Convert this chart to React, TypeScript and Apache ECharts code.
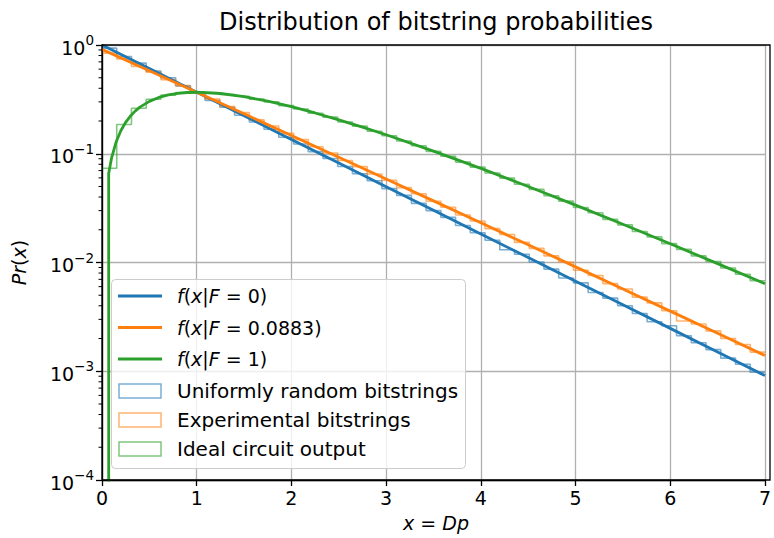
import React, { useEffect, useRef } from 'react';
import * as echarts from 'echarts';

// ---- data ----
const BIN_COUNT = 45;
const X_MAX = 7;

const UNIFORM_HIST = [
  0.935, 0.785, 0.682, 0.575, 0.5, 0.421, 0.366, 0.309, 0.268, 0.226, 0.196, 0.168, 0.142, 0.123, 0.1045,
  0.0905, 0.0763, 0.0655, 0.0565, 0.0478, 0.0414, 0.035, 0.03, 0.026, 0.0219, 0.0188, 0.016, 0.0131, 0.0119,
  0.0101, 0.0087, 0.0072, 0.0065, 0.0053, 0.0047, 0.004, 0.0034, 0.00285, 0.00262, 0.00212, 0.00183, 0.00158,
  0.00132, 0.00116, 0.00098,
];
const EXPERIMENT_HIST = [
  0.842, 0.745, 0.636, 0.562, 0.48, 0.423, 0.362, 0.318, 0.272, 0.239, 0.205, 0.18, 0.154, 0.135, 0.1158,
  0.1015, 0.0868, 0.0762, 0.0651, 0.0571, 0.0488, 0.0429, 0.0366, 0.0322, 0.0273, 0.0241, 0.0205, 0.0181,
  0.0153, 0.0135, 0.0115, 0.0101, 0.0085, 0.0076, 0.0064, 0.0057, 0.0048, 0.00425, 0.0036, 0.0029, 0.00272,
  0.00235, 0.002, 0.00176, 0.0015,
];
const IDEAL_HIST = [
  0.0735, 0.186, 0.262, 0.317, 0.346, 0.365, 0.366, 0.364, 0.351, 0.338, 0.318, 0.3, 0.277, 0.258, 0.2355,
  0.217, 0.196, 0.1795, 0.161, 0.1465, 0.131, 0.1185, 0.1052, 0.0947, 0.0838, 0.0753, 0.0665, 0.0597, 0.0525,
  0.047, 0.0411, 0.0367, 0.032, 0.0287, 0.0249, 0.0222, 0.0193, 0.0172, 0.0149, 0.0132, 0.0115, 0.0102,
  0.0089, 0.0078, 0.0068,
];

const F0_X = [0, 0.5, 1, 1.5, 2, 2.5, 3, 3.5, 4, 4.5, 5, 5.5, 6, 6.5, 7];
const F0_Y = [1, 0.6065, 0.3679, 0.2231, 0.1353, 0.0821, 0.04979, 0.0302, 0.01832, 0.01111, 0.006738, 0.004087,
  0.002479, 0.001503, 0.000912];
const FX_X = [0, 0.5, 1, 1.5, 2, 2.5, 3, 3.5, 4, 4.5, 5, 5.5, 6, 6.5, 7];
const FX_Y = [0.9117, 0.5797, 0.3679, 0.233, 0.1473, 0.093, 0.05858, 0.03687, 0.02317, 0.01455, 0.009118,
  0.005711, 0.003573, 0.002234, 0.001395];
const F1_X = [0.0707, 0.0707, 0.1, 0.15, 0.2, 0.25, 0.3, 0.35, 0.4, 0.5, 0.6, 0.7, 0.8, 0.9, 1, 1.25, 1.5, 1.75,
  2, 2.25, 2.5, 2.75, 3, 3.5, 4, 4.5, 5, 5.5, 6, 6.5, 7];
const F1_Y = [1e-6, 0.066, 0.0905, 0.1291, 0.1637, 0.1947, 0.2222, 0.2466, 0.2681, 0.3033, 0.3293, 0.3476,
  0.3595, 0.3659, 0.3679, 0.3581, 0.3347, 0.3041, 0.2707, 0.2371, 0.2052, 0.1758, 0.1494, 0.1057, 0.0733, 0.05,
  0.0337, 0.0225, 0.01487, 0.00977, 0.00638];

const LINE_LABELS = ['0', '0.0883', '1'];
const HIST_LABELS = ['Uniformly random bitstrings', 'Experimental bitstrings', 'Ideal circuit output'];
const TITLE = 'Distribution of bitstring probabilities';

const BLUE = '#1f77b4';
const ORANGE = '#ff7f0e';
const GREEN = '#2ca02c';
const FONT = 'DejaVu Sans';

const GRID = { left: 102, top: 45, width: 668, height: 435 };

function stepData(vals: number[]) {
  const d = vals.map((v, i) => [(i * X_MAX) / BIN_COUNT, v]);
  d.push([X_MAX, vals[vals.length - 1]]);
  return d;
}
function zip(xs: number[], ys: number[]) {
  return xs.map((x, i) => [x, ys[i]]);
}

export default function App() {
  const ref = useRef<HTMLDivElement>(null);
  useEffect(() => {
    const chart = echarts.init(ref.current!, null, { renderer: 'svg' });

    const minorTicks: number[][] = [];
    for (let e = -4; e < 0; e++) {
      for (let m = 2; m <= 9; m++) minorTicks.push([0, m * Math.pow(10, e)]);
    }

    const italicRich = {
      n: { fontFamily: FONT, fontSize: 19, color: '#000' },
      i: { fontFamily: FONT, fontSize: 19, fontStyle: 'italic', color: '#000' },
    };

    const legendItems: any[] = [
      {
        type: 'rect',
        shape: { x: 111.5, y: 279.5, width: 354, height: 189, r: 4 },
        style: { fill: 'rgba(255,255,255,0.8)', stroke: '#cccccc', lineWidth: 1 },
        z: 50,
      },
    ];
    const lineColors = [BLUE, ORANGE, GREEN];
    const lineYs = [296, 327.5, 359];
    lineYs.forEach((y, k) => {
      legendItems.push({
        type: 'line',
        shape: { x1: 118, y1: y, x2: 162, y2: y },
        style: { stroke: lineColors[k], lineWidth: 2.8 },
        z: 51,
      });
      legendItems.push({
        type: 'text',
        x: 177,
        y: y,
        style: {
          text: `{i|f}{n|(}{i|x}{n||}{i|F}{n| = ${LINE_LABELS[k]})}`,
          rich: italicRich,
          verticalAlign: 'middle',
          align: 'left',
        },
        z: 51,
      });
    });
    const histYs = [391, 420, 449];
    histYs.forEach((y, k) => {
      legendItems.push({
        type: 'rect',
        shape: { x: 119, y: y - 7, width: 42, height: 14 },
        style: { fill: 'none', stroke: lineColors[k], lineWidth: 1.5, opacity: 0.6 },
        z: 51,
      });
      legendItems.push({
        type: 'text',
        x: 177,
        y: y,
        style: {
          text: HIST_LABELS[k],
          fontFamily: FONT,
          fontSize: 20,
          fill: '#000',
          verticalAlign: 'middle',
          align: 'left',
        },
        z: 51,
      });
    });

    const histSeries = [UNIFORM_HIST, EXPERIMENT_HIST, IDEAL_HIST].map((vals, k) => ({
      type: 'line',
      name: HIST_LABELS[k],
      data: stepData(vals),
      step: 'end',
      symbol: 'none',
      showSymbol: false,
      lineStyle: { color: lineColors[k], width: 1.6, opacity: 0.6 },
      z: 2,
      silent: true,
    }));
    const curveSeries = [zip(F0_X, F0_Y), zip(FX_X, FX_Y), zip(F1_X, F1_Y)].map((d, k) => ({
      type: 'line',
      name: 'f' + k,
      data: d,
      symbol: 'none',
      showSymbol: false,
      lineStyle: { color: lineColors[k], width: 2.8 },
      z: 3,
      silent: true,
    }));

    chart.setOption({
      animation: false,
      textStyle: { fontFamily: FONT },
      grid: { ...GRID, containLabel: false },
      xAxis: {
        type: 'value',
        min: 0,
        max: 7,
        interval: 1,
        axisLine: { show: true, onZero: false, lineStyle: { color: '#000', width: 1.3 } },
        axisTick: { show: true, length: 6, lineStyle: { color: '#000', width: 1.3 } },
        axisLabel: { fontFamily: FONT, fontSize: 19, color: '#000', margin: 8 },
        splitLine: { show: true, lineStyle: { color: '#b0b0b0', width: 1.3 } },
      },
      yAxis: {
        type: 'log',
        logBase: 10,
        min: 1e-4,
        max: 1,
        axisLine: { show: true, onZero: false, lineStyle: { color: '#000', width: 1.3 } },
        axisTick: { show: true, length: 6, lineStyle: { color: '#000', width: 1.3 } },
        axisLabel: {
          margin: 8,
          formatter: (v: number) => {
            const e = Math.round(Math.log10(v));
            return `{b|10}{s|${e < 0 ? '\u2212' + -e : e}}`;
          },
          rich: {
            b: { fontFamily: FONT, fontSize: 19, color: '#000', lineHeight: 24, verticalAlign: 'bottom' },
            s: { fontFamily: FONT, fontSize: 13.5, color: '#000', lineHeight: 14, verticalAlign: 'top' },
          },
        },
        splitLine: { show: true, lineStyle: { color: '#b0b0b0', width: 1.3 } },
      },
      series: [
        ...histSeries,
        ...curveSeries,
        {
          type: 'custom',
          data: minorTicks,
          clip: false,
          silent: true,
          encode: { x: 0, y: 1 },
          renderItem: (params: any, api: any) => {
            const p = api.coord([api.value(0), api.value(1)]);
            return {
              type: 'line',
              shape: { x1: p[0] - 3.5, y1: p[1], x2: p[0], y2: p[1] },
              style: { stroke: '#000', lineWidth: 1 },
            };
          },
          z: 5,
        },
      ],
      graphic: [
        {
          type: 'rect',
          shape: { x: GRID.left, y: GRID.top, width: GRID.width, height: GRID.height },
          style: { fill: 'none', stroke: '#000', lineWidth: 1.3 },
          z: 100,
          silent: true,
        },
        {
          type: 'text',
          x: GRID.left + GRID.width / 2,
          y: 22,
          style: {
            text: TITLE,
            fontFamily: FONT,
            fontSize: 24,
            fill: '#000',
            align: 'center',
            verticalAlign: 'middle',
          },
        },
        {
          type: 'text',
          x: GRID.left + GRID.width / 2,
          y: 523,
          style: {
            text: '{i|x}{n| = }{i|Dp}',
            rich: italicRich,
            align: 'center',
            verticalAlign: 'middle',
          },
        },
        {
          type: 'text',
          x: 19,
          y: GRID.top + GRID.height / 2,
          rotation: Math.PI / 2,
          style: {
            text: '{i|Pr}{n|(}{i|x}{n|)}',
            rich: italicRich,
            align: 'center',
            verticalAlign: 'middle',
          },
        },
        ...legendItems,
      ],
    });
    return () => chart.dispose();
  }, []);
  return <div ref={ref} style={{ position: 'absolute', left: 0, top: 0, width: 774, height: 538 }} />;
}
